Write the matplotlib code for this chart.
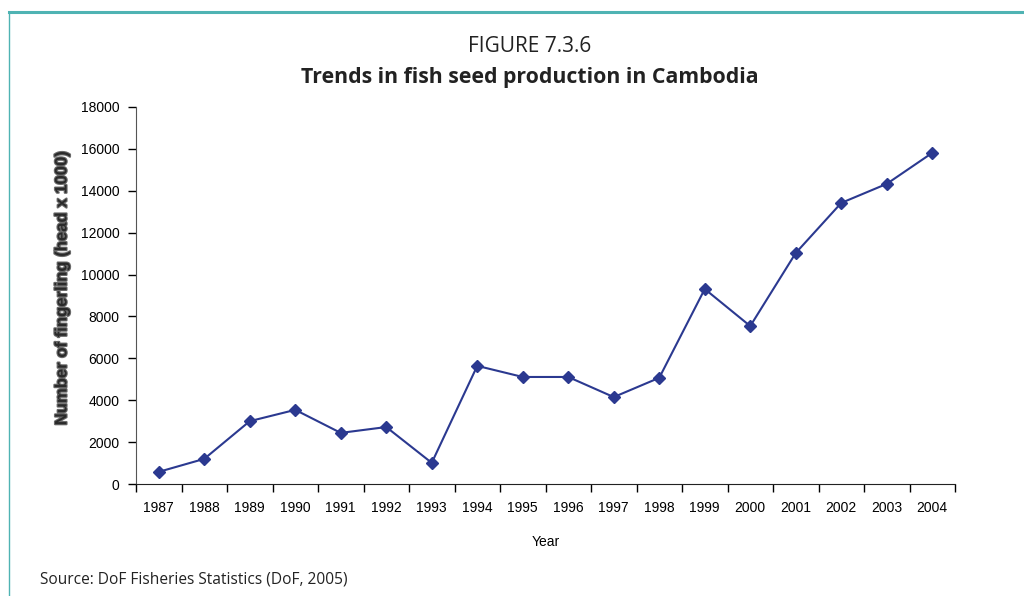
import matplotlib.pyplot as plt
from matplotlib.lines import Line2D
import matplotlib.patheffects as pe

# Fish seed production, Cambodia (head x 1000)
years = ['1987', '1988', '1989', '1990', '1991', '1992', '1993', '1994', '1995',
         '1996', '1997', '1998', '1999', '2000', '2001', '2002', '2003', '2004']
fingerlings = [580, 1200, 3000, 3540, 2440, 2720, 1010, 5640, 5110,
               5110, 4150, 5070, 9310, 7540, 11030, 13420, 14330, 15810]
yticks = [0, 2000, 4000, 6000, 8000, 10000, 12000, 14000, 16000, 18000]

navy = '#2b3990'
teal = '#4fb3b3'

fig = plt.figure(figsize=(10.24, 5.96), dpi=100)

# page frame: heavy rule along the top, thin rule down the left
fig.add_artist(Line2D([9 / 1024, 1.0], [1 - 12 / 596, 1 - 12 / 596],
                      transform=fig.transFigure, color=teal, lw=2.2))
fig.add_artist(Line2D([9 / 1024, 9 / 1024], [0, 1 - 12 / 596],
                      transform=fig.transFigure, color=teal, lw=1.0))

ax = fig.add_axes([136 / 1024, 1 - 484 / 596, 819 / 1024, 377 / 596])

x = list(range(len(years)))
ax.plot(x, fingerlings, color=navy, lw=1.5, marker='D', markersize=6,
        markerfacecolor=navy, markeredgecolor=navy)

ax.set_xlim(-0.5, len(years) - 0.5)
ax.set_ylim(0, 18000)
ax.set_yticks(yticks)
ax.set_yticklabels([str(v) for v in yticks], fontsize=10, family='Liberation Sans')

# category labels between the boundary ticks
ax.set_xticks([i - 0.5 for i in range(len(years) + 1)])
ax.set_xticklabels([])
ax.set_xticks(x, minor=True)
ax.set_xticklabels(years, minor=True, fontsize=10, family='Liberation Sans')
ax.tick_params(axis='x', which='minor', length=0, pad=12)
ax.tick_params(axis='x', which='major', length=6, width=1, direction='out')
ax.tick_params(axis='y', length=6, width=1, direction='out', pad=6)

for s in ['top', 'right']:
    ax.spines[s].set_visible(False)
ax.spines['left'].set_color('#555555')
ax.spines['bottom'].set_color('#222222')

ax.set_xlabel('Year', fontsize=10, family='Liberation Sans', labelpad=15)

fig.text(62 / 1024, 1 - 289 / 596, 'Number of fingerling (head x 1000)',
         rotation=90, ha='center', va='center', fontsize=12, fontweight='bold',
         family='Liberation Sans', color='#2a2a2a',
         path_effects=[pe.withStroke(linewidth=1.6, foreground='#6a6a6a')])

fig.text(530 / 1024, 1 - 47 / 596, 'FIGURE 7.3.6', ha='center', va='center',
         fontsize=15, family='Open Sans', color='#222222')
fig.text(530 / 1024, 1 - 77 / 596, 'Trends in fish seed production in Cambodia',
         ha='center', va='center', fontsize=15.3, fontweight='bold',
         family='Open Sans', color='#222222')
fig.text(40 / 1024, 1 - 580 / 596, 'Source: DoF Fisheries Statistics (DoF, 2005)',
         ha='left', va='center', fontsize=11.2, family='Open Sans', color='#222222')

fig.savefig('out.png', dpi=100)
